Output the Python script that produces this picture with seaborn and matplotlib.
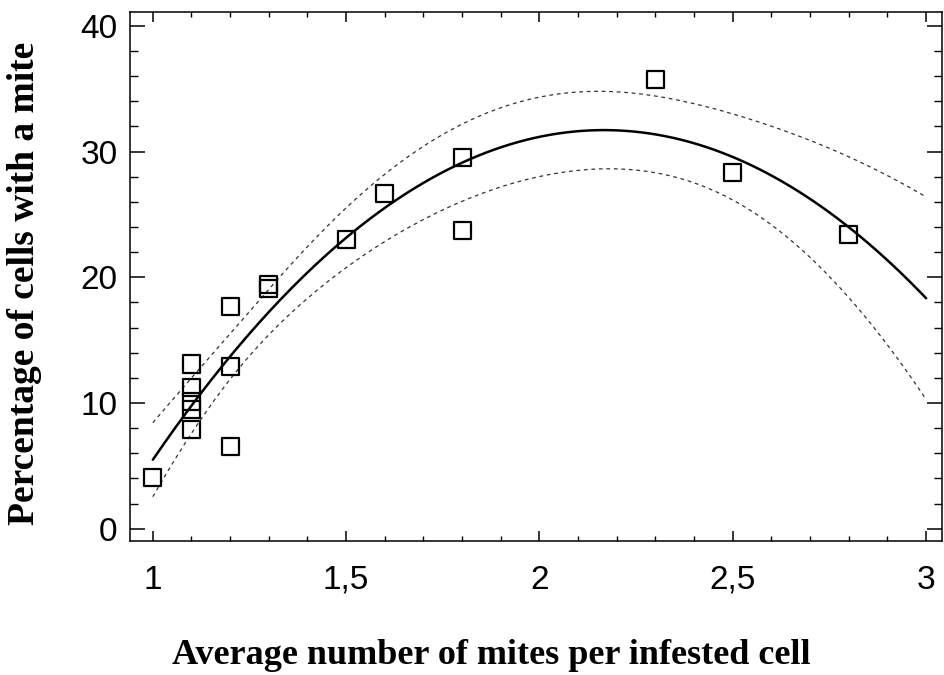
import numpy as np
import pandas as pd
import matplotlib
matplotlib.use("Agg")
import matplotlib.pyplot as plt
from matplotlib.ticker import MultipleLocator, FuncFormatter
import seaborn as sns

# ---- data ----
mites_per_cell = [1.0, 1.1, 1.1, 1.1, 1.1, 1.1, 1.2, 1.2, 1.2, 1.3, 1.3,
                  1.5, 1.6, 1.8, 1.8, 2.3, 2.5, 2.8]
pct_cells = [4.1, 13.1, 11.2, 10.1, 9.5, 7.9, 17.7, 12.9, 6.5, 19.4, 19.1,
             23.0, 26.7, 29.5, 23.7, 35.7, 28.3, 23.4]
x_ticks = [1, 1.5, 2, 2.5, 3]
y_ticks = [0, 10, 20, 30, 40]
x_label = "Average number of mites per infested cell"
y_label = "Percentage of cells with a mite"

sns.set_theme(style="ticks")
plt.rcParams['font.family'] = ['Liberation Sans', 'DejaVu Sans']
plt.rcParams.update({"text.color": "black", "axes.labelcolor": "black",
                     "xtick.color": "black", "ytick.color": "black",
                     "axes.edgecolor": "black"})

df = pd.DataFrame({"x": mites_per_cell, "y": pct_cells})

# quadratic fit with 95% confidence limits for the mean
X = np.column_stack([np.ones(len(df)), df.x, df.x ** 2])
beta, *_ = np.linalg.lstsq(X, df.y, rcond=None)
resid = df.y - X @ beta
dof = len(df) - 3
s2 = (resid ** 2).sum() / dof
cov = s2 * np.linalg.inv(X.T @ X)
xg = np.linspace(1.0, 3.0, 200)
Xg = np.column_stack([np.ones_like(xg), xg, xg ** 2])
fit = Xg @ beta
se = np.sqrt(np.einsum("ij,jk,ik->i", Xg, cov, Xg))
tval = 2.131  # t(0.975, 15)
fit_df = pd.DataFrame({"x": xg, "fit": fit, "lo": fit - tval * se, "hi": fit + tval * se})

fig = plt.figure(figsize=(9.44, 6.75), dpi=100)
ax = fig.add_axes([130 / 944, 1 - 541 / 675, 812 / 944, 529 / 675])

sns.lineplot(data=fit_df, x="x", y="fit", ax=ax, color="black", lw=1.8)
sns.lineplot(data=fit_df, x="x", y="lo", ax=ax, color="#333333", lw=0.9,
             linestyle=(0, (3, 3)))
sns.lineplot(data=fit_df, x="x", y="hi", ax=ax, color="#333333", lw=0.9,
             linestyle=(0, (3, 3)))
sns.scatterplot(data=df, x="x", y="y", ax=ax, marker="s", s=150,
                facecolor="none", edgecolor="black", linewidth=1.6, zorder=5)

ax.set_xlim(0.941, 3.041)
ax.set_ylim(-0.98, 41.1)
ax.set_xticks(x_ticks)
ax.set_yticks(y_ticks)
ax.xaxis.set_minor_locator(MultipleLocator(0.1))
ax.yaxis.set_minor_locator(MultipleLocator(2))
fmt = FuncFormatter(lambda v, p: (f"{v:g}").replace(".", ","))
ax.xaxis.set_major_formatter(fmt)
ax.yaxis.set_major_formatter(fmt)

ax.tick_params(which="both", direction="in", top=True, right=True, color="black",
               labelcolor="black")
ax.tick_params(axis="x", which="major", length=7.5, width=1.1, pad=17, labelsize=24)
ax.tick_params(axis="x", which="minor", length=3.5, width=1.0)
ax.tick_params(axis="y", which="major", length=11, width=1.1, pad=9, labelsize=24)
ax.tick_params(axis="y", which="minor", length=5.5, width=1.0)
for s in ax.spines.values():
    s.set_linewidth(1.1)
    s.set_color("black")

ax.set_xlabel(x_label, family=["Liberation Serif"], fontweight="bold", fontsize=26,
              color="black")
ax.set_ylabel(y_label, family=["Liberation Serif"], fontweight="bold", fontsize=27,
              color="black")
ax.xaxis.set_label_coords((491 - 130) / 812, -(655 - 541) / 529)
ax.yaxis.set_label_coords(-(130 - 25) / 812, (541 - 283) / 529)
ax.xaxis.label.set_va("center")
ax.yaxis.label.set_va("center")

fig.savefig("out.png", dpi=100)
